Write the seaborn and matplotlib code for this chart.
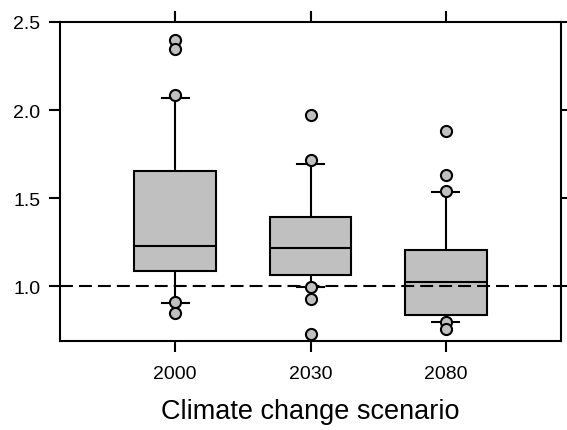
import numpy as np
import pandas as pd
import matplotlib
matplotlib.use('Agg')
import matplotlib.pyplot as plt
import seaborn as sns

SCENARIOS = ['2000', '2030', '2080']
# box summaries (whiskers look like 5th/95th percentiles)
WHISKER_LO = [0.905, 0.994, 0.800]
Q1 = [1.085, 1.063, 0.835]
MEDIAN = [1.227, 1.216, 1.023]
Q3 = [1.653, 1.392, 1.205]
WHISKER_HI = [2.068, 1.693, 1.534]

# points beyond the whiskers
OUTLIER_SCEN = ['2000'] * 5 + ['2030'] * 5 + ['2080'] * 5
OUTLIER_VAL = [2.398, 2.347, 2.085, 0.909, 0.847,
               1.972, 1.716, 0.994, 0.926, 0.729,
               1.880, 1.631, 1.540, 0.798, 0.756]

REF_LEVEL = 1.0

# five-number rows -> with whis=(0, 100) seaborn reproduces exactly these boxes
box_df = pd.DataFrame({
    'scenario': np.repeat(SCENARIOS, 5),
    'value': np.column_stack([WHISKER_LO, Q1, MEDIAN, Q3, WHISKER_HI]).ravel(),
})
out_df = pd.DataFrame({'scenario': OUTLIER_SCEN, 'value': OUTLIER_VAL})

plt.rcParams['font.family'] = ['Liberation Sans', 'DejaVu Sans']
lw = 1.5

fig = plt.figure(figsize=(5.67, 4.31), dpi=100)
ax = fig.add_axes([60 / 567, 89 / 431, 501 / 567, 319 / 431])

sns.boxplot(data=box_df, x='scenario', y='value', order=SCENARIOS, ax=ax,
            whis=(0, 100), width=0.6, color='#C0C0C0', saturation=1,
            linecolor='black', linewidth=lw, fliersize=0, capwidths=0.2)
ax.axhline(REF_LEVEL, color='black', lw=lw, ls=(0, (6.2, 2.9)), zorder=2.5)
sns.stripplot(data=out_df, x='scenario', y='value', order=SCENARIOS, ax=ax,
              jitter=False, color='#C0C0C0', edgecolor='black', linewidth=lw,
              size=8, zorder=3)

ax.set_xlim(-0.85, 2.85)
ax.set_ylim(0.69, 2.5)
ax.set_yticks([1.0, 1.5, 2.0, 2.5])
ax.set_yticklabels(['1.0', '1.5', '2.0', '2.5'])
ax.set_ylabel('')
ax.set_xlabel('Climate change scenario', fontsize=19.5, labelpad=12)

for s in ax.spines.values():
    s.set_linewidth(lw)
    s.set_color('black')
ax.tick_params(direction='out', length=8, width=lw, top=True, right=True,
               labeltop=False, labelright=False, labelsize=14)
ax.tick_params(axis='x', pad=9)
ax.tick_params(axis='y', pad=6)

fig.savefig('out.png', dpi=100)
plt.close(fig)
